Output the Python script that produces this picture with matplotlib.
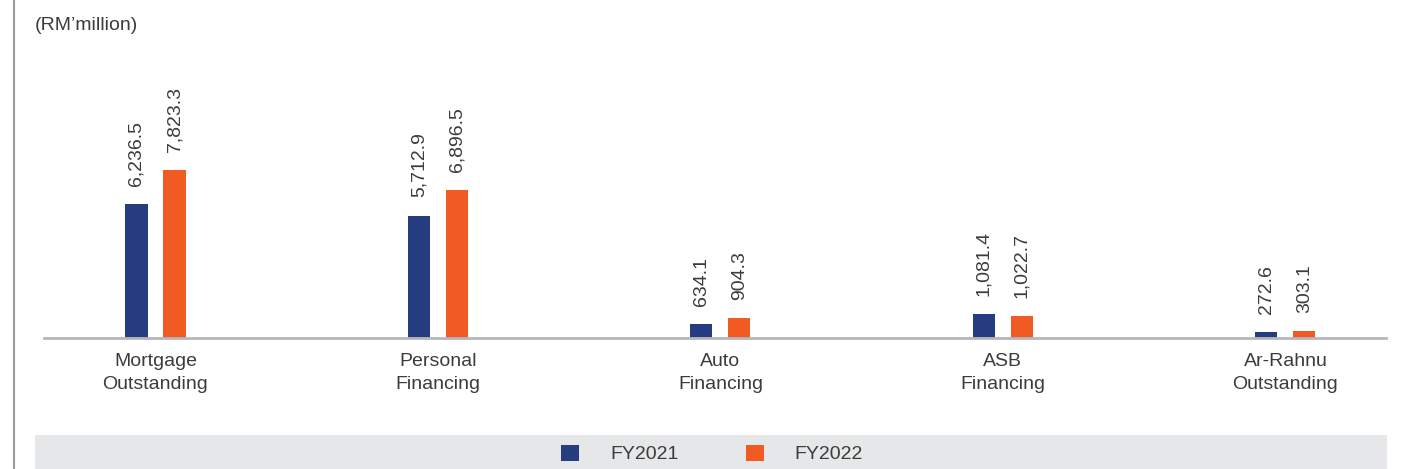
import matplotlib
matplotlib.use("Agg")
import matplotlib.pyplot as plt
from matplotlib.patches import Rectangle, Patch
from matplotlib.lines import Line2D
import numpy as np

categories = ["Mortgage\nOutstanding", "Personal\nFinancing", "Auto\nFinancing",
              "ASB\nFinancing", "Ar-Rahnu\nOutstanding"]
fy2021 = [6236.5, 5712.9, 634.1, 1081.4, 272.6]
fy2022 = [7823.3, 6896.5, 904.3, 1022.7, 303.1]
series_names = ["FY2021", "FY2022"]
unit_label = "(RM\u2019million)"

navy = "#253C80"
orange = "#F15A22"
txt = "#3c3c3c"

plt.rcParams['font.family'] = ['Liberation Sans', 'DejaVu Sans']

W, H = 1401, 469
fig = plt.figure(figsize=(W/100, H/100), dpi=100)

ax = fig.add_axes([44/W, (H-337.5)/H, 1342/W, 337.5/H])
x = np.arange(len(categories))
bw = 0.078
off = 0.0673
b1 = ax.bar(x - off, fy2021, bw, color=navy)
b2 = ax.bar(x + off, fy2022, bw, color=orange)

for bars, vals in ((b1, fy2021), (b2, fy2022)):
    for rect, v in zip(bars, vals):
        ax.annotate(f"{v:,.1f}", (rect.get_x() + rect.get_width()/2, rect.get_height()),
                    xytext=(0, 13), textcoords="offset points", rotation=90,
                    ha="center", va="bottom", fontsize=14, color=txt)

ax.set_xlim(-0.3947, 4.356)
ax.set_ylim(0, 15808)
ax.set_xticks(x)
ax.set_xticklabels(categories, fontsize=14, color=txt, linespacing=1.45)
ax.tick_params(axis="x", length=0, pad=11)
ax.set_yticks([])
for s in ("top", "right", "left"):
    ax.spines[s].set_visible(False)
ax.spines["bottom"].set_color("#b7b7ba")
ax.spines["bottom"].set_linewidth(2)
ax.patch.set_alpha(0)

# legend band
fig.patches.append(Rectangle((35/W, 0), (1387-35)/W, 34/H, transform=fig.transFigure,
                             facecolor="#E6E7E8", edgecolor="none", zorder=0))
# left border line
fig.lines.append(Line2D([13.5/W, 13.5/W], [0, 1], transform=fig.transFigure,
                        color="#9a9a9a", linewidth=1.5))

handles = [Patch(facecolor=navy, edgecolor="none"), Patch(facecolor=orange, edgecolor="none")]
fig.legend(handles, series_names, loc="center", bbox_to_anchor=(712/W, 15/H),
           ncol=2, frameon=False, fontsize=14, handlelength=0.93, handleheight=0.93,
           handletextpad=1.6, columnspacing=3.45, labelcolor=txt)

fig.text(35/W, 1 - 25/H, unit_label, fontsize=14, color=txt, ha="left", va="center")

fig.savefig("out.png", dpi=100)
